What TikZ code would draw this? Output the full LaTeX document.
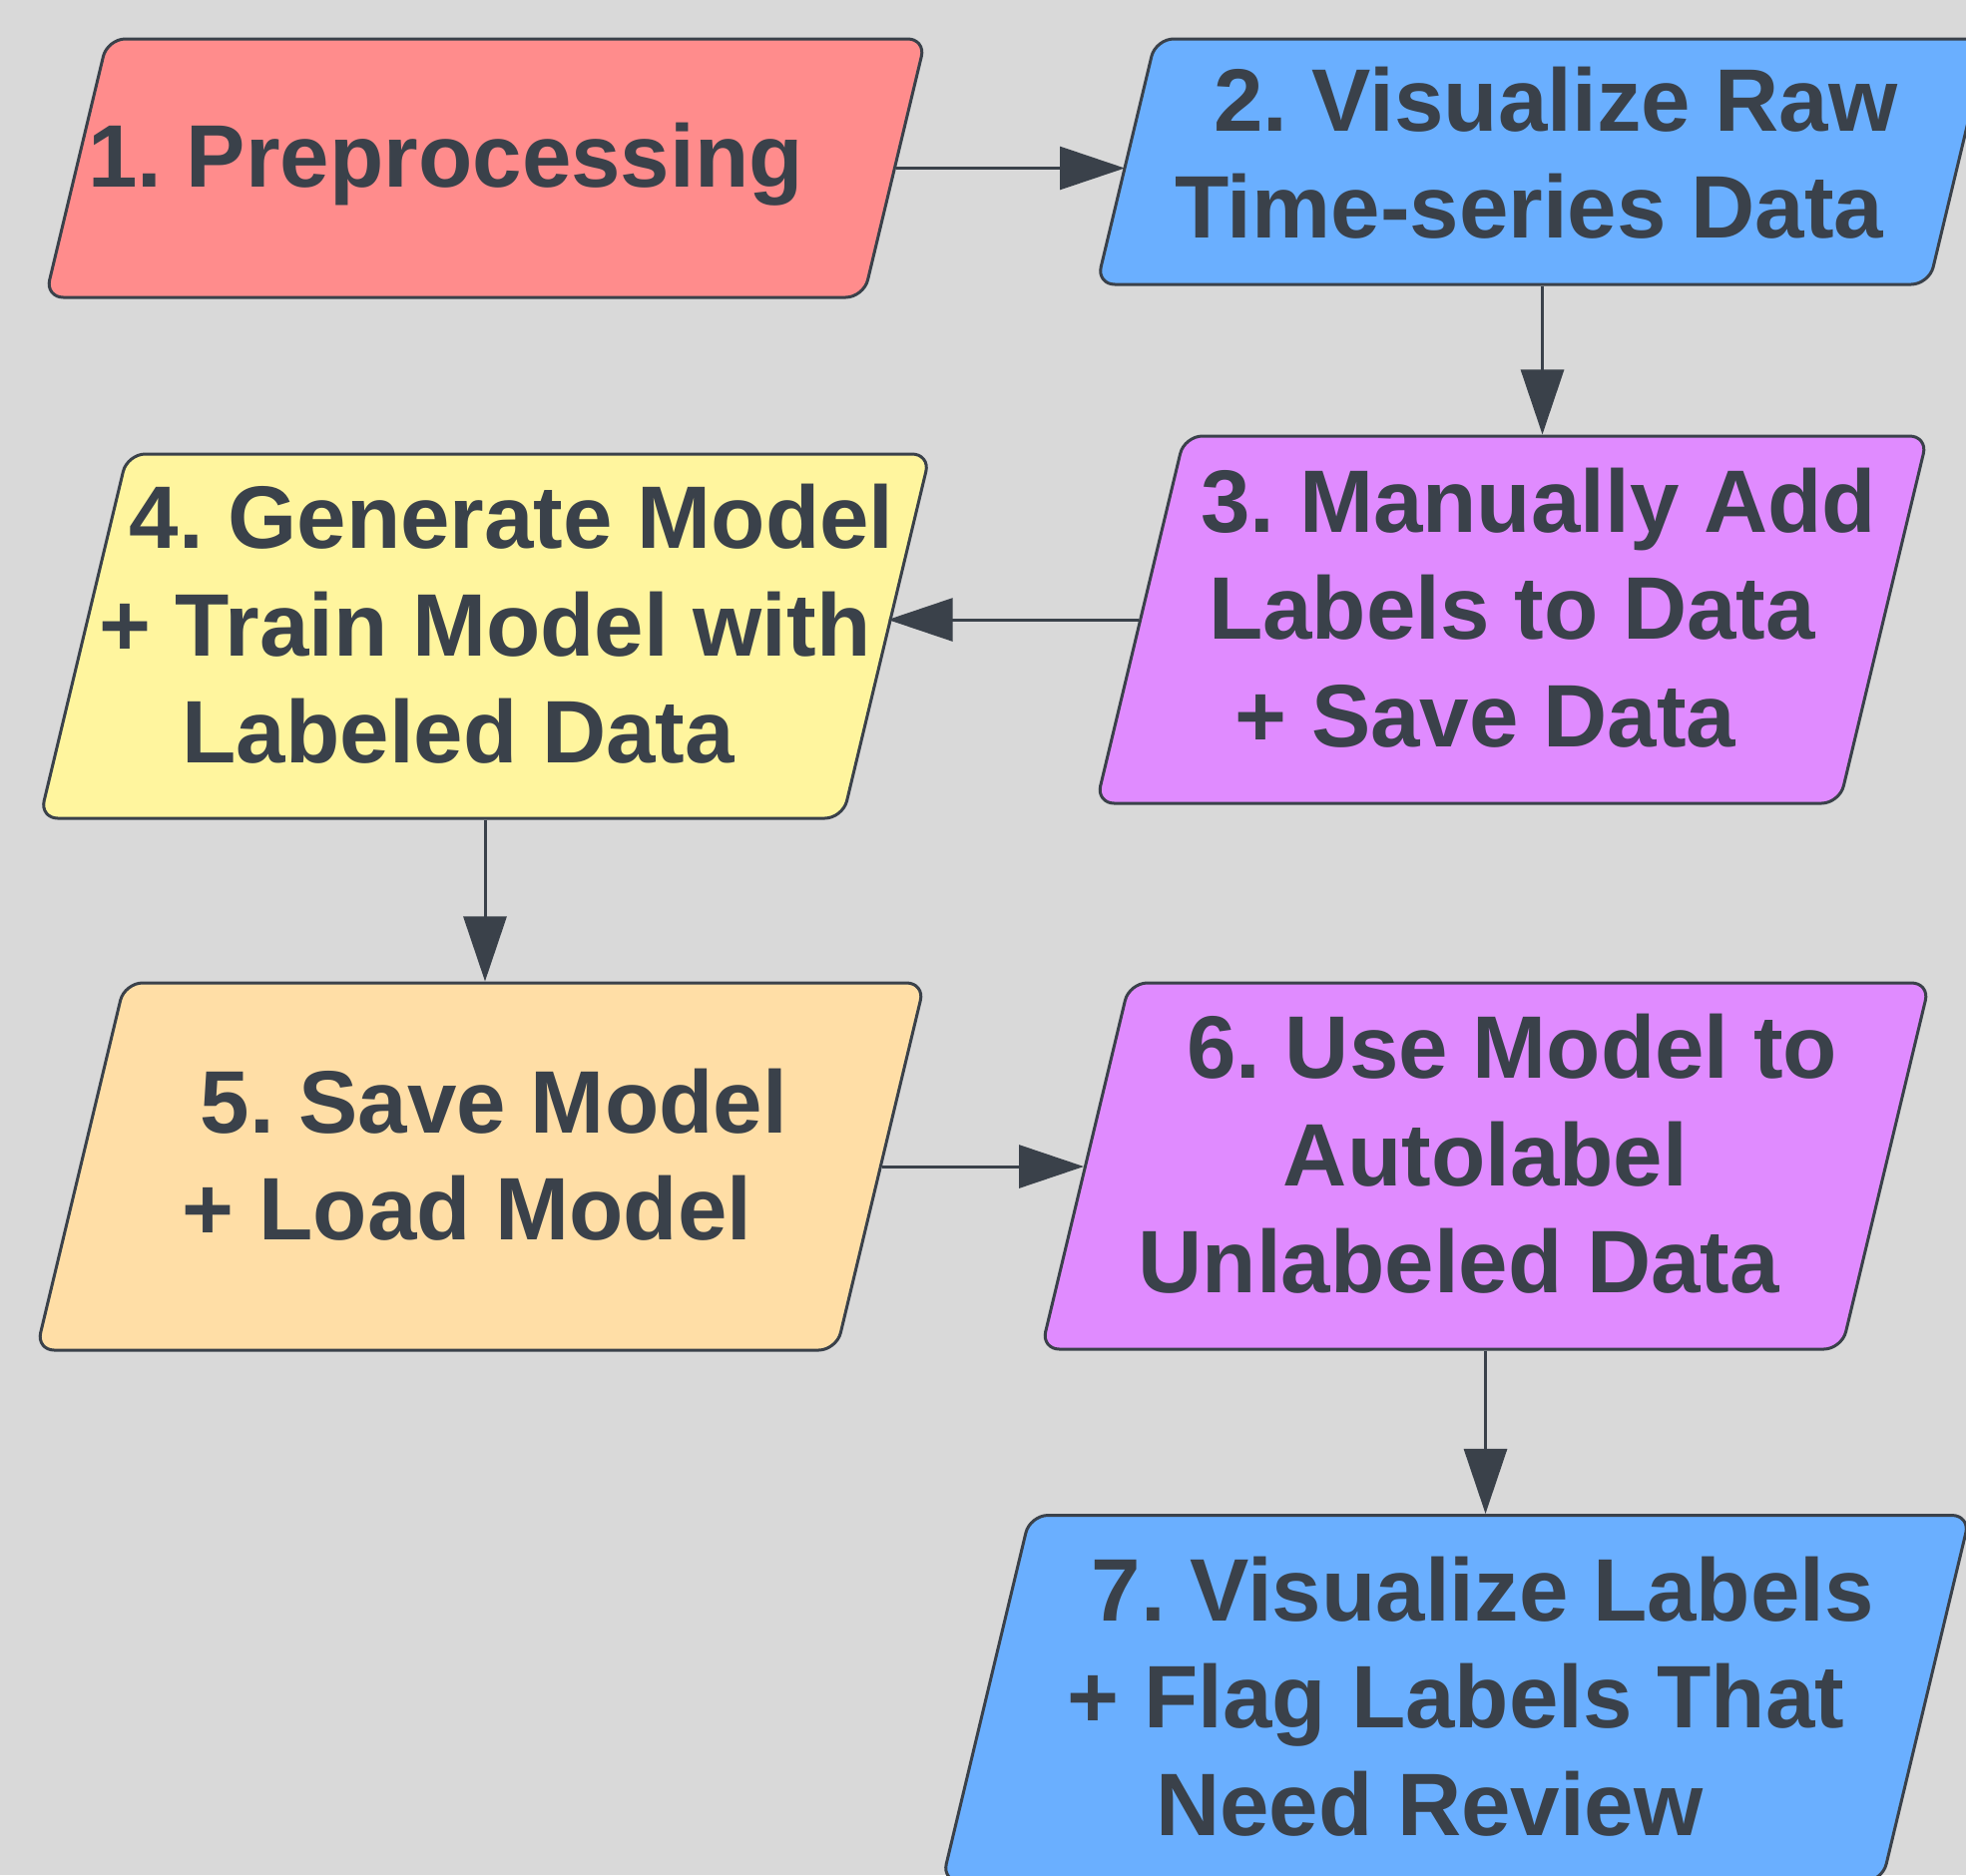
\documentclass[tikz,border=0pt]{standalone}
\usepackage{fontspec}
\setmainfont{Liberation Sans}
\usetikzlibrary{shapes.geometric,arrows.meta}
\definecolor{canvas}{HTML}{D9D9D9}
\definecolor{ink}{HTML}{3A414A}
\definecolor{stepred}{HTML}{FF8C8C}
\definecolor{stepblue}{HTML}{6AAFFF}
\definecolor{steppurple}{HTML}{E08BFF}
\definecolor{stepyellow}{HTML}{FFF59E}
\definecolor{steporange}{HTML}{FFDEA6}
% blank space to push a line along the slant of the box
\newcommand{\skw}[1]{\makebox[#1em]{}}
\tikzset{
stepbox/.style={trapezium, trapezium left angle=76.5, trapezium right angle=103.5,
  trapezium stretches body, draw=ink, line width=0.03cm, rounded corners=0.18cm,
  inner sep=0pt, text depth=0pt},
steptext/.style={align=center, text=ink, yshift=0.12cm,
  font=\frenchspacing\bfseries\fontsize{25.3}{30.6}\selectfont},
flow/.style={draw=ink, line width=0.03cm, -{Triangle[length=0.65cm, width=0.43cm]}},
}

\begin{document}
\begin{tikzpicture}
\path[use as bounding box, fill=canvas] (0,0) rectangle (19.70,-18.79);

% boxes (text height gives the box height)
\node[stepbox, fill=stepred, minimum width=8.82cm, text height=2.59cm] (n1) at (4.865,-1.685) {};
\node[stepbox, fill=stepblue, minimum width=8.93cm, text height=2.46cm] (n2) at (15.455,-1.62) {};
\node[stepbox, fill=steppurple, minimum width=8.33cm, text height=3.68cm] (n3) at (15.15,-6.21) {};
\node[stepbox, fill=stepyellow, minimum width=8.92cm, text height=3.65cm] (n4) at (4.86,-6.375) {};
\node[stepbox, fill=steporange, minimum width=8.9cm, text height=3.68cm] (n5) at (4.815,-11.69) {};
\node[stepbox, fill=steppurple, minimum width=8.9cm, text height=3.67cm] (n6) at (14.885,-11.685) {};
\node[stepbox, fill=stepblue, minimum width=10.3cm, text height=3.67cm] (n7) at (14.59,-17.02) {};

% texts
\node[steptext, xshift=-0.4cm, yshift=-0.08cm] (t1) at (n1) {1. Preprocessing};
\node[steptext, yshift=-0.03cm] (t2) at (n2) {\skw{0.3}2. Visualize Raw\\Time-series Data\skw{0.3}};
\node[steptext] (t3) at (n3) {\skw{0.6}3. Manually Add\\Labels to Data\\+ Save Data\skw{0.6}};
\node[steptext] (t4) at (n4) {\skw{0.6}4. Generate Model\\+ Train Model with\\Labeled Data\skw{0.6}};
\node[steptext] (t5) at (n5) {\skw{0.3}5. Save Model\\+ Load Model\skw{0.3}};
\node[steptext] (t6) at (n6) {\skw{0.6}6. Use Model to\\Autolabel\\Unlabeled Data\skw{0.6}};
\node[steptext, yshift=-0.1cm] (t7) at (n7) {\skw{0.6}7. Visualize Labels\\+ Flag Labels That\\Need Review\skw{0.6}};

% arrows
\draw[flow] (n1.east) -- (n1.east -| n2.west);
\draw[flow] (n2.south) -- (n2.south |- n3.north);
\draw[flow] (n3.west) -- (n3.west -| n4.east);
\draw[flow] (n4.south) -- (n4.south |- n5.north);
\draw[flow] (n5.east) -- (n5.east -| n6.west);
\draw[flow] (n6.south) -- (n6.south |- n7.north);
\end{tikzpicture}
\end{document}
